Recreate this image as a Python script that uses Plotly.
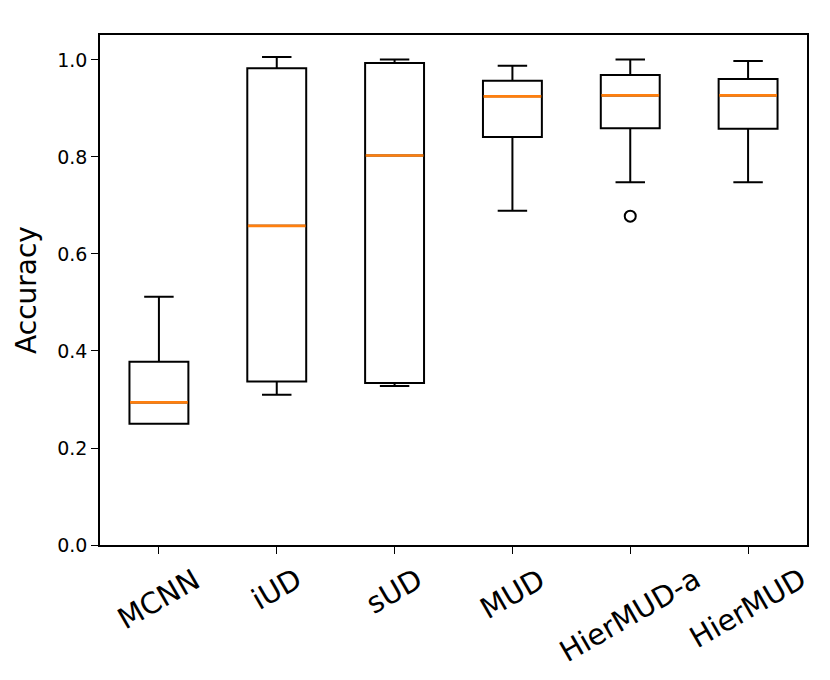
import plotly.graph_objects as go

methods = ["MCNN", "iUD", "sUD", "MUD", "HierMUD-a", "HierMUD"]
positions = [1, 2, 3, 4, 5, 6]
lower = [0.250, 0.310, 0.328, 0.689, 0.748, 0.748]
q1 = [0.250, 0.337, 0.334, 0.841, 0.859, 0.858]
median = [0.294, 0.658, 0.803, 0.925, 0.927, 0.927]
q3 = [0.378, 0.983, 0.994, 0.957, 0.969, 0.961]
upper = [0.512, 1.006, 1.001, 0.988, 1.001, 0.998]
outlier_pos = [5]
outlier_val = [0.678]

fig = go.Figure()

# boxes with precomputed stats, black like matplotlib defaults
fig.add_trace(go.Box(x=positions, q1=q1, median=median, q3=q3,
                     lowerfence=lower, upperfence=upper,
                     width=0.5, whiskerwidth=0.5,
                     line=dict(color="black", width=2), fillcolor="white",
                     boxpoints=False, showlegend=False, hoverinfo="skip"))

# orange median lines on top (a bit wider so the black one underneath is hidden)
for p, m in zip(positions, median):
    fig.add_trace(go.Scatter(x=[p - 0.245, p + 0.245], y=[m, m], mode="lines",
                             line=dict(color="#ff7f0e", width=2.6),
                             showlegend=False, hoverinfo="skip"))

fig.add_trace(go.Scatter(x=outlier_pos, y=outlier_val, mode="markers",
                         marker=dict(symbol="circle-open", size=11, color="black",
                                     line=dict(width=2)),
                         showlegend=False))

# rotated category labels, centred under the ticks as matplotlib does
for p, name in zip(positions, methods):
    fig.add_annotation(x=p, y=0, xref="x", yref="paper", text=name,
                       textangle=-30, showarrow=False, xanchor="center",
                       yanchor="top", yshift=-14,
                       font=dict(family="DejaVu Sans", size=29, color="black"))

fig.update_layout(
    width=830, height=680,
    margin=dict(l=92, r=31, t=27, b=143),
    plot_bgcolor="white", paper_bgcolor="white",
    font=dict(family="DejaVu Sans", color="black"),
)
fig.update_xaxes(range=[0.5, 6.5], tickvals=positions, ticktext=[""] * 6,
                 ticks="outside", ticklen=7, tickcolor="black",
                 showline=True, linecolor="black", linewidth=1.5, mirror=True,
                 showgrid=False, zeroline=False)
fig.update_yaxes(range=[0, 1.0515], tickvals=[0, 0.2, 0.4, 0.6, 0.8, 1.0],
                 tickformat=".1f", ticks="outside", ticklen=7, tickcolor="black",
                 tickfont=dict(size=19),
                 showline=True, linecolor="black", linewidth=1.5, mirror=True,
                 showgrid=False, zeroline=False,
                 title=dict(text="Accuracy", font=dict(size=28), standoff=12))

fig.write_html("out.html")
